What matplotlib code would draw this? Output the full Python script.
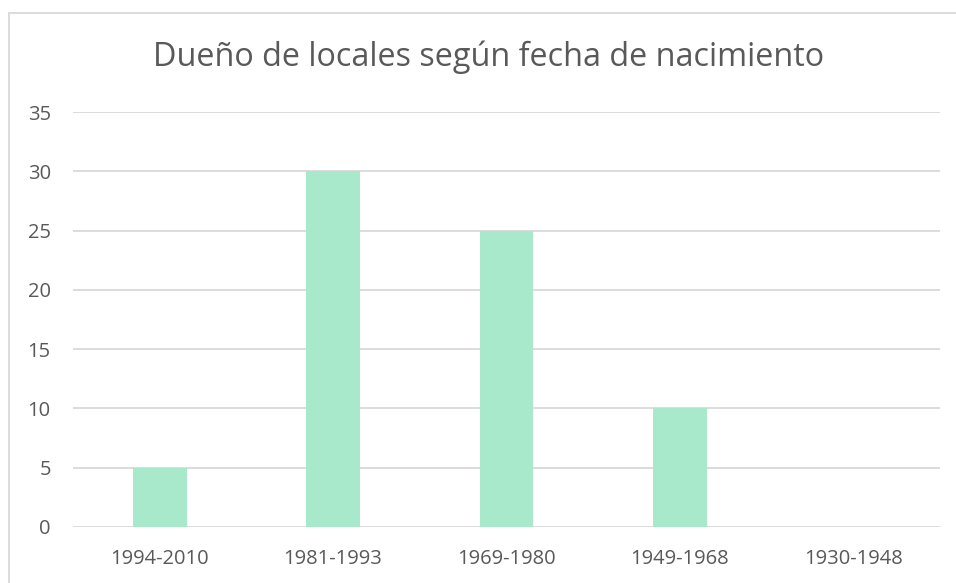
import matplotlib.pyplot as plt
from matplotlib.lines import Line2D

# datos
rangos = ['1994-2010', '1981-1993', '1969-1980', '1949-1968', '1930-1948']
duenos = [5, 30, 25, 10, 0]
yticks = [0, 5, 10, 15, 20, 25, 30, 35]

gris = '#595959'
verde = '#A8E8CB'

plt.rcParams['font.family'] = ['Open Sans', 'DejaVu Sans']

fig = plt.figure(figsize=(9.56, 5.83), dpi=100)
ax = fig.add_axes([73 / 956, 1 - 527 / 583, (940 - 73) / 956, (527 - 112) / 583])

x = range(len(rangos))
ax.bar(x, duenos, width=0.31, color=verde, zorder=2)

ax.set_xlim(-0.5, len(rangos) - 0.5)
ax.set_ylim(0, 35)
ax.set_yticks(yticks)
ax.set_xticks(list(x))
ax.set_xticklabels(rangos)
ax.grid(axis='y', color='#D9D9D9', linewidth=1.3, zorder=0)
for s in ax.spines.values():
    s.set_visible(False)
ax.tick_params(axis='both', length=0, labelsize=14.5, labelcolor=gris)
ax.tick_params(axis='y', pad=16)
ax.tick_params(axis='x', pad=16)

fig.text(489 / 956, 1 - 57 / 583, 'Dueño de locales según fecha de nacimiento',
         ha='center', va='center', fontsize=23.3, color=gris)

# marco del gráfico (recortado)
fig.add_artist(Line2D([9 / 956, 9 / 956], [0, 1 - 13 / 583], color='#D9D9D9', lw=1.3))
fig.add_artist(Line2D([9 / 956, 1], [1 - 13 / 583, 1 - 13 / 583], color='#D9D9D9', lw=1.3))

fig.savefig('out.png', dpi=100)
